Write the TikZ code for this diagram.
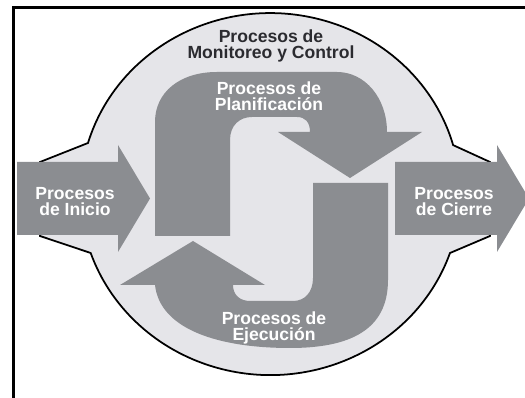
\documentclass[tikz,border=0pt]{standalone}
\usepackage{fontspec}
\setmainfont{Liberation Sans}
\definecolor{blobgray}{HTML}{E5E5E9}
\definecolor{arrowgray}{HTML}{8B8D91}
\definecolor{labeldark}{HTML}{2B2B30}
\begin{document}
\begin{tikzpicture}[x=0.02cm, y=-0.02cm,
  lbl/.style={align=center, inner sep=0pt, font=\bfseries\fontsize{10}{9.4}\selectfont, text=white},
  band/.style={fill=arrowgray, draw=none}]
\useasboundingbox (0,0) rectangle (525,398);
\fill[white] (0,0) rectangle (525,398);
\filldraw[fill=blobgray, draw=black, line width=1pt] (40,162) -- (88,143)
  arc[start angle=196.4, end angle=344.3, x radius=190, y radius=181] -- (490,162) -- (490,236) -- (450,253)
  arc[start angle=19, end angle=161, x radius=190, y radius=181] -- (40,236) -- cycle;
\fill[band] (17,162) -- (118,162) -- (118,145) -- (150,198.5) -- (118,252) -- (118,235) -- (17,235) -- cycle;
\fill[band] (395,162) -- (497,162) -- (497,145) -- (529,198.5) -- (497,252) -- (497,235) -- (395,235) -- cycle;
\fill[band] (155,236) -- (155,122) .. controls (155,92) and (180,72) .. (217,72) -- (337,72)
  .. controls (365,72) and (387,98) .. (387,132) -- (422,132) -- (350,178) -- (278,132) -- (310,132)
  .. controls (310,122) and (305,117) .. (297,117) -- (252,117) .. controls (240,117) and (230,125) .. (230,140)
  -- (230,236) -- cycle;
\fill[band] (313,183) -- (388,183) -- (388,280) .. controls (388,330) and (350,348) .. (290,348)
  .. controls (220,348) and (160,330) .. (155,285) -- (120,285) -- (193,241) -- (265,285) -- (233,285)
  .. controls (233,295) and (240,301) .. (250,301) -- (293,301) .. controls (305,301) and (313,292) .. (313,278)
  -- cycle;
\draw[line width=1.7pt] (13.5,398) -- (13.5,7.5) -- (525,7.5);
\node[lbl, text=labeldark] (monitoreo) at (271,46) {Procesos de\\Monitoreo y Control};
\node[lbl] (planificacion) at (269,96) {Procesos de\\Planificación};
\node[lbl] (inicio) at (75,201.5) {Procesos\\de Inicio};
\node[lbl] (cierre) at (454,201.5) {Procesos\\de Cierre};
\node[lbl] (ejecucion) at (274,328) {Procesos de\\Ejecución};
\end{tikzpicture}
\end{document}
